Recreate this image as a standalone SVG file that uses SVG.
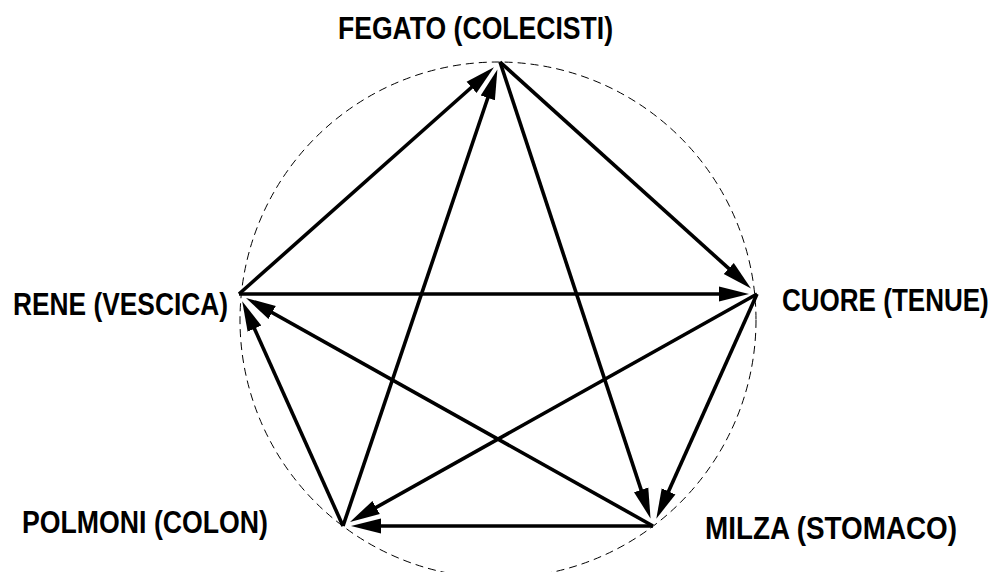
<svg xmlns="http://www.w3.org/2000/svg" width="995" height="572" viewBox="0 0 995 572">
<style>
.lbl{font-family:"Liberation Sans",Arial,sans-serif;font-weight:bold;font-size:31px;fill:#000}
.arr{stroke:#000;stroke-width:3.6;fill:none;marker-end:url(#ah)}
.circ{stroke:#000;stroke-width:1;fill:none;stroke-dasharray:8 5}
</style>
<defs>
<marker id="ah" markerUnits="userSpaceOnUse" markerWidth="34" markerHeight="18" viewBox="0 -9 34 18" refX="20" refY="0" orient="auto">
<path d="M0,-7.5 L30,0 L0,7.5 Z" fill="#000"/>
</marker>
</defs>
<rect width="995" height="572" fill="#fff"/>
<circle class="circ" cx="498" cy="320" r="258"/>
<g id="connectors">
<line class="arr" x1="239" y1="294" x2="486.5" y2="74"/>
<line class="arr" x1="500" y1="62" x2="743.6" y2="281.9"/>
<line class="arr" x1="757" y1="294" x2="660.4" y2="509.6"/>
<line class="arr" x1="653" y1="526" x2="361" y2="526"/>
<line class="arr" x1="343" y1="526" x2="246.3" y2="310.4"/>
<line class="arr" x1="500" y1="62" x2="647.4" y2="508.9"/>
<line class="arr" x1="653" y1="526" x2="254.7" y2="302.8"/>
<line class="arr" x1="239" y1="294" x2="739" y2="294"/>
<line class="arr" x1="757" y1="294" x2="358.7" y2="517.2"/>
<line class="arr" x1="343" y1="526" x2="494.2" y2="79"/>
</g>
<g id="fegato"><text class="lbl" x="338" y="39" textLength="275" lengthAdjust="spacingAndGlyphs">FEGATO (COLECISTI)</text></g>
<g id="cuore"><text class="lbl" transform="translate(782,311) scale(0.84,1)" x="0" y="0">CUORE (TENUE)</text></g>
<g id="milza"><text class="lbl" x="705" y="539" textLength="252" lengthAdjust="spacingAndGlyphs">MILZA (STOMACO)</text></g>
<g id="polmoni"><text class="lbl" x="22" y="533" textLength="246" lengthAdjust="spacingAndGlyphs">POLMONI (COLON)</text></g>
<g id="rene"><text class="lbl" x="13" y="315" textLength="215" lengthAdjust="spacingAndGlyphs">RENE (VESCICA)</text></g>
</svg>
